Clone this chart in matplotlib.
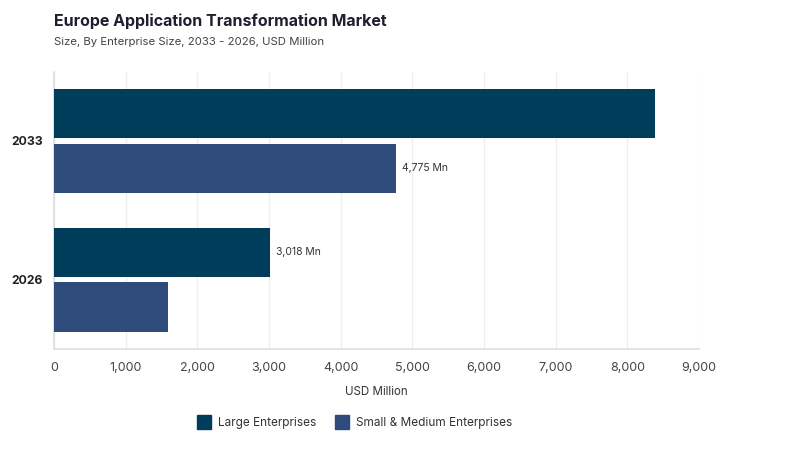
import matplotlib.pyplot as plt
import numpy as np
from matplotlib.lines import Line2D

plt.rcParams['font.family'] = ['Inter', 'DejaVu Sans']

years = ['2026', '2033']
large = [3018, 8380]
small = [1590, 4775]
series_names = ['Large Enterprises', 'Small & Medium Enterprises']
colors = ['#003d5b', '#2f4b7c']
# which bars get a value label: (series index, year index)
labelled = [(0, 0), (1, 1)]

fig = plt.figure(figsize=(8, 4.5), dpi=100)
ax = fig.add_axes([0.0675, 0.2244, 0.8063, 0.6166])

y = np.arange(len(years))
h = 0.355
off = 0.198
b1 = ax.barh(y + off, large, height=h, color=colors[0], zorder=3)
b2 = ax.barh(y - off, small, height=h, color=colors[1], zorder=3)

for si, yi in labelled:
    val = [large, small][si][yi]
    ypos = y[yi] + (off if si == 0 else -off)
    ax.text(val + 80, ypos, f'{val:,} Mn', va='center', ha='left',
            fontsize=7.5, color='#333333')

ax.set_xlim(0, 9000)
ax.set_ylim(-0.5, 1.5)
ax.set_xticks(np.arange(0, 9001, 1000))
ax.set_xticklabels([f'{v:,}' for v in range(0, 9001, 1000)])
ax.set_yticks(y)
ax.set_yticklabels(years, fontweight='bold', fontsize=8.8, color='#222222')
ax.tick_params(axis='x', length=0, labelsize=9, labelcolor='#444444', pad=9)
ax.tick_params(axis='y', length=0, pad=8)
ax.grid(axis='x', color='#eeeeee', linewidth=1, zorder=0)
for s in ['top', 'right']:
    ax.spines[s].set_visible(False)
ax.spines['left'].set_color('#dddddd')
ax.spines['bottom'].set_color('#dddddd')
ax.spines['left'].set_linewidth(1.2)
ax.spines['bottom'].set_linewidth(1.2)
ax.set_xlabel('USD Million', fontsize=8.3, color='#333333', labelpad=9)

fig.text(0.0675, 0.953, 'Europe Application Transformation Market', fontsize=11.5,
         fontweight='bold', color='#1e1e2e', va='center')
fig.text(0.0675, 0.907, 'Size, By Enterprise Size, 2033 - 2026, USD Million', fontsize=8.2,
         color='#444444', va='center')

handles = [Line2D([], [], marker='s', linestyle='', markersize=10, markerfacecolor=c,
                  markeredgecolor=c) for c in colors]
fig.legend(handles, series_names, loc='center', bbox_to_anchor=(0.44, 0.06), ncol=2,
           frameon=False, fontsize=8.5, handletextpad=0.2, columnspacing=1.2,
           labelcolor='#333333')

fig.savefig('out.png', dpi=100, facecolor='white')
